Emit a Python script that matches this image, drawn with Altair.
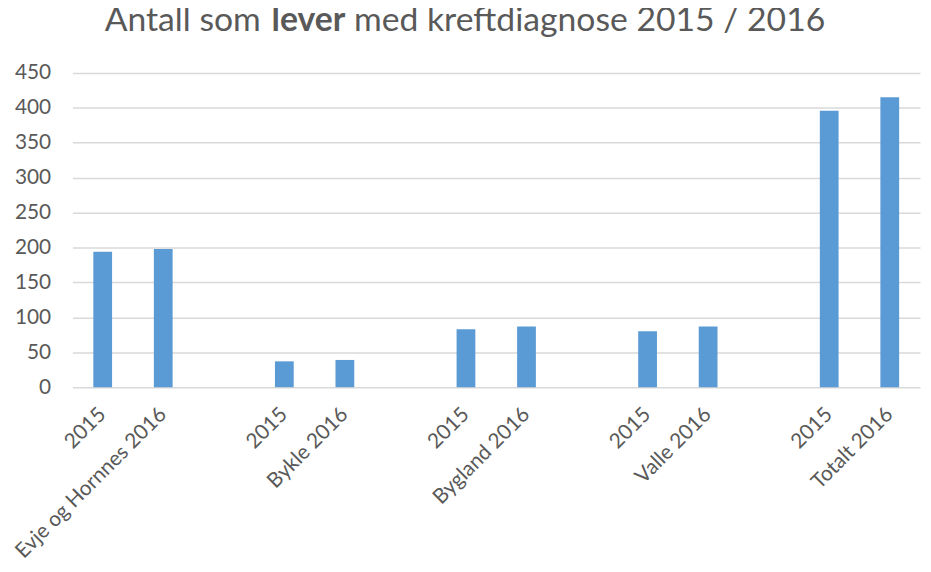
import json
import altair as alt
import pandas as pd

categories = ["2015", "Evje og Hornnes 2016", "", "2015", "Bykle 2016", "",
              "2015", "Bygland 2016", "", "2015", "Valle 2016", "",
              "2015", "Totalt 2016"]
values = [194, 198, None, 37, 39, None, 83, 87, None, 80, 87, None, 396, 415]
y_ticks = [0, 50, 100, 150, 200, 250, 300, 350, 400, 450]

title_parts = ["Antall som", "lever", "med kreftdiagnose 2015 / 2016"]

FONT = "Lato"
GREY = "#595959"
GRID = "#d9d9d9"
BLUE = "#5b9bd5"
TSIZE = 34

df = pd.DataFrame({"idx": list(range(len(categories))), "value": values})

label_expr = f"{json.dumps(categories)}[datum.value]"

bars = alt.Chart(df).mark_bar(color=BLUE).encode(
    x=alt.X("idx:O",
            scale=alt.Scale(domain=list(range(len(categories))),
                            paddingInner=0.69, paddingOuter=0.345),
            axis=alt.Axis(title=None, labelExpr=label_expr, labelAngle=-45,
                          labelAlign="right", labelBaseline="middle",
                          labelFontSize=21, labelColor=GREY, labelFont=FONT,
                          labelPadding=24, labelLimit=400, ticks=False,
                          domain=False, grid=False)),
    y=alt.Y("value:Q",
            scale=alt.Scale(domain=[0, 450], nice=False, zero=True),
            axis=alt.Axis(title=None, values=y_ticks, labelFontSize=21,
                          labelColor=GREY, labelFont=FONT, labelPadding=22,
                          ticks=False, domain=False, gridColor=GRID,
                          gridWidth=1.5)),
)

tdf = pd.DataFrame({"t": title_parts})
t1 = alt.Chart(tdf).transform_filter(alt.datum.t == title_parts[0]).mark_text(
    font=FONT, fontSize=TSIZE, color=GREY, align="right", baseline="alphabetic"
).encode(text="t:N", x=alt.value(190), y=alt.value(-42))
t2 = alt.Chart(tdf).transform_filter(alt.datum.t == title_parts[1]).mark_text(
    font=FONT, fontSize=TSIZE, color=GREY, align="center", baseline="alphabetic",
    fontWeight="bold"
).encode(text="t:N", x=alt.value(238), y=alt.value(-42))
t3 = alt.Chart(tdf).transform_filter(alt.datum.t == title_parts[2]).mark_text(
    font=FONT, fontSize=TSIZE, color=GREY, align="left", baseline="alphabetic"
).encode(text="t:N", x=alt.value(284), y=alt.value(-42))

chart = alt.layer(bars, t1, t2, t3).properties(
    width=855, height=317,
    autosize=alt.AutoSizeParams(type="none"),
    padding={"left": 65, "top": 63, "right": 3, "bottom": 190},
).configure_view(stroke=None)

chart.save("out.html", embed_options={"renderer": "svg", "actions": False})
